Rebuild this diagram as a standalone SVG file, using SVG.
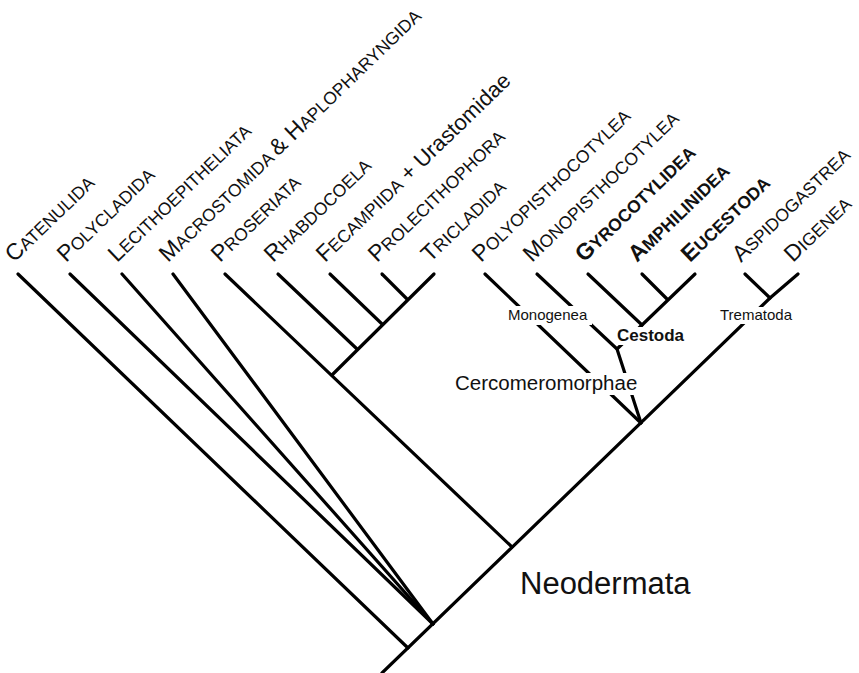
<svg xmlns="http://www.w3.org/2000/svg" width="859" height="673" viewBox="0 0 859 673">
<style>
.e{stroke:#000;stroke-width:3.2;fill:none;stroke-linecap:round;stroke-linejoin:round}
text{font-family:"Liberation Sans",Arial,Helvetica,sans-serif;fill:#111}
.t{font-size:17.5px}
.t .c{font-size:23px}
.t .u{font-size:22px}
.bd{font-weight:bold}
.n{font-size:15px}
.bg{fill:#fff}
</style>
<rect width="859" height="673" fill="#fff"/>
<g id="connectors">
<path class="e" d="M382,673 L770,298"/>
<path class="e" d="M18,274 L408,648"/>
<path class="e" d="M70,274 L433,624"/>
<path class="e" d="M122,274 L433,624"/>
<path class="e" d="M173,274 L433,624"/>
<path class="e" d="M225,274 L512,547"/>
<path class="e" d="M332,375 L434,274"/>
<path class="e" d="M278,274 L357,349"/>
<path class="e" d="M330,274 L382,324"/>
<path class="e" d="M382,274 L407,299"/>
<path class="e" d="M485,274 L641,423"/>
<path class="e" d="M537,274 L617,349 L641,423"/>
<path class="e" d="M617,349 L642,325"/>
<path class="e" d="M588,274 L642,325 L695,274"/>
<path class="e" d="M642,274 L667,299"/>
<path class="e" d="M745,274 L770,298 L798,274"/>
</g>
<g id="catenulida"><text class="t" transform="translate(14,263) rotate(-44)"><tspan class="c">C</tspan>ATENULIDA</text></g>
<g id="polycladida"><text class="t" transform="translate(66,263) rotate(-44)"><tspan class="c">P</tspan>OLYCLADIDA</text></g>
<g id="lecithoepitheliata"><text class="t" transform="translate(117,263) rotate(-44)"><tspan class="c">L</tspan>ECITHOEPITHELIATA</text></g>
<g id="macrostomida"><text class="t" transform="translate(168,263) rotate(-44)"><tspan class="c">M</tspan>ACROSTOMIDA <tspan class="c">&amp; H</tspan>APLOPHARYNGIDA</text></g>
<g id="proseriata"><text class="t" transform="translate(220,263) rotate(-44)"><tspan class="c">P</tspan>ROSERIATA</text></g>
<g id="rhabdocoela"><text class="t" transform="translate(273,263) rotate(-44)"><tspan class="c">R</tspan>HABDOCOELA</text></g>
<g id="fecampiida"><text class="t" transform="translate(325,263) rotate(-44)"><tspan class="c">F</tspan>ECAMPIIDA<tspan class="u"> + Urastomidae</tspan></text></g>
<g id="prolecithophora"><text class="t" transform="translate(377,263) rotate(-44)"><tspan class="c">P</tspan>ROLECITHOPHORA</text></g>
<g id="tricladida"><text class="t" transform="translate(430,263) rotate(-44)"><tspan class="c">T</tspan>RICLADIDA</text></g>
<g id="polyopisthocotylea"><text class="t" transform="translate(481,263) rotate(-44)"><tspan class="c">P</tspan>OLYOPISTHOCOTYLEA</text></g>
<g id="monopisthocotylea"><text class="t" transform="translate(532,263) rotate(-44)"><tspan class="c">M</tspan>ONOPISTHOCOTYLEA</text></g>
<g id="gyrocotylidea"><text class="t bd" transform="translate(584,263) rotate(-44)"><tspan class="c">G</tspan>YROCOTYLIDEA</text></g>
<g id="amphilinidea"><text class="t bd" transform="translate(637,263) rotate(-44)"><tspan class="c">A</tspan>MPHILINIDEA</text></g>
<g id="eucestoda"><text class="t bd" transform="translate(690,263) rotate(-44)"><tspan class="c">E</tspan>UCESTODA</text></g>
<g id="aspidogastrea"><text class="t" transform="translate(741,263) rotate(-44)"><tspan class="c">A</tspan>SPIDOGASTREA</text></g>
<g id="digenea"><text class="t" transform="translate(793,263) rotate(-44)"><tspan class="c">D</tspan>IGENEA</text></g>
<g id="monogenea"><rect class="bg" x="506" y="306" width="86" height="19"/><text class="n" x="508" y="320">Monogenea</text></g>
<g id="cestoda"><rect class="bg" x="615" y="327" width="72" height="18"/><text class="bd" x="617" y="341" font-size="17">Cestoda</text></g>
<g id="trematoda"><rect class="bg" x="718" y="307" width="76" height="17"/><text class="n" x="720" y="320">Trematoda</text></g>
<g id="cercomeromorphae"><rect class="bg" x="453" y="373" width="190" height="22"/><text x="455" y="390" font-size="20.5">Cercomeromorphae</text></g>
<g id="neodermata"><text x="520" y="594" font-size="31">Neodermata</text></g>
</svg>
